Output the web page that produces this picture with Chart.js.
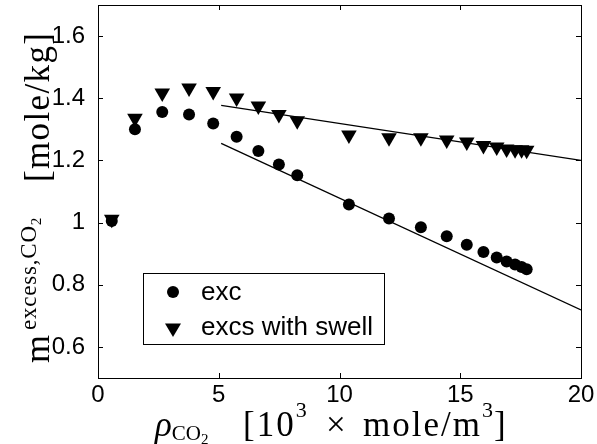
<!DOCTYPE html>
<html>
<head>
<meta charset="utf-8">
<script src="https://cdn.jsdelivr.net/npm/chart.js@4"></script>
<style>
  body { margin: 0; background: #fff; }
</style>
</head>
<body>
<canvas id="myChart" width="597" height="444"></canvas>
<script>
// CO2 density [10^3 mole/m^3]
const density = [0.57, 1.53, 2.66, 3.77, 4.77, 5.74, 6.64, 7.49, 8.25, 10.39,
  12.05, 13.37, 14.44, 15.27, 15.96, 16.51, 16.92, 17.27, 17.54, 17.75]
const excValues = [1.005, 1.300, 1.356, 1.348, 1.319, 1.276, 1.230, 1.187, 1.152, 1.058,
  1.013, 0.985, 0.956, 0.929, 0.905, 0.888, 0.875, 0.865, 0.857, 0.850]
const swellValues = [1.011, 1.336, 1.417, 1.433, 1.422, 1.401, 1.375, 1.348, 1.328, 1.282,
  1.273, 1.273, 1.266, 1.259, 1.248, 1.243, 1.237, 1.234, 1.234, 1.233]
// straight fits, drawn from x=5.1 to 20
const fitX = [5.1, 20]
const fitExc = [1.255, 0.719]
const fitSwell = [1.377, 1.200]
const seriesLabels = ['exc', 'excs with swell']
const xTicks = [0, 5, 10, 15, 20]
const yTicks = [0.6, 0.8, 1, 1.2, 1.4, 1.6]

const pts = (xs, ys) => xs.map((x, i) => ({x: x, y: ys[i]}))

const serif = '"Liberation Serif", "DejaVu Serif", serif'
const sans = '"Liberation Sans", Arial, sans-serif'

// each piece: text, size, offset from baseline, optional start pos and width to stretch to
function richText(ctx, segs) {
  ctx.textBaseline = 'alphabetic'
  ctx.textAlign = 'left'
  let cur = 0
  segs.forEach(s => {
    ctx.font = (s.it ? 'italic ' : '') + s.s + 'px ' + serif
    ctx.letterSpacing = '0px'
    if (s.w) {
      const nat = ctx.measureText(s.t).width
      const sp = Math.min(2, Math.max(0, (s.w - nat) / Math.max(1, s.t.length - 1)))
      ctx.letterSpacing = sp + 'px'
    }
    const x = s.at !== undefined ? s.at : cur + (s.gap || 0)
    ctx.fillText(s.t, x, s.dy || 0)
    cur = x + ctx.measureText(s.t).width
  })
  ctx.letterSpacing = '0px'
}

// keep the plot box where the original has it
const pinArea = {
  id: 'pinArea',
  afterLayout(chart) {
    const y = chart.scales.y
    chart.chartArea.top = 5
    y.top = 5
    y.height = y.bottom - y.top
    y.configure()
  }
}

const framePlugin = {
  id: 'frame',
  afterDraw(chart) {
    const ctx = chart.ctx
    const a = chart.chartArea
    const xs = chart.scales.x, ys = chart.scales.y
    ctx.save()
    ctx.strokeStyle = '#000'
    ctx.fillStyle = '#000'
    ctx.lineWidth = 1
    ctx.strokeRect(a.left + 0.5, a.top + 0.5, a.right - a.left, a.bottom - a.top)
    // inward ticks on every side
    ctx.beginPath()
    xTicks.forEach(v => {
      const p = Math.round(xs.getPixelForValue(v)) + 0.5
      ctx.moveTo(p, a.bottom); ctx.lineTo(p, a.bottom - 5)
      ctx.moveTo(p, a.top); ctx.lineTo(p, a.top + 5)
    })
    yTicks.forEach(v => {
      const p = Math.round(ys.getPixelForValue(v)) + 0.5
      ctx.moveTo(a.left, p); ctx.lineTo(a.left + 5, p)
      ctx.moveTo(a.right, p); ctx.lineTo(a.right - 5, p)
    })
    ctx.stroke()

    // legend
    ctx.fillStyle = '#fff'
    ctx.fillRect(143, 273, 241, 71)
    ctx.strokeRect(143.5, 273.5, 241, 71)
    ctx.fillStyle = '#000'
    ctx.beginPath()
    ctx.arc(173, 292, 6, 0, Math.PI * 2)
    ctx.fill()
    ctx.beginPath()
    ctx.moveTo(165, 323.5); ctx.lineTo(181, 323.5); ctx.lineTo(173, 337)
    ctx.closePath()
    ctx.fill()
    ctx.font = '26px ' + sans
    ctx.textBaseline = 'middle'
    ctx.fillText(seriesLabels[0], 201, 293)
    ctx.fillText(seriesLabels[1], 201, 328)

    // x title
    ctx.save()
    ctx.translate(0, 436)
    richText(ctx, [
      {t: 'ρ', s: 35, it: true, at: 155},
      {t: 'CO', s: 21, dy: 4},
      {t: '2', s: 15, dy: 8},
      {t: '[10', s: 35, at: 243, w: 58},
      {t: '3', s: 22, dy: -19},
      {t: '×', s: 35, at: 326},
      {t: 'mole/m', s: 35, at: 363, w: 126},
      {t: '3', s: 22, dy: -19},
      {t: ']', s: 35, gap: 1}
    ])
    ctx.restore()

    // y title, rotated, reading upward
    ctx.translate(49, 363)
    ctx.rotate(-Math.PI / 2)
    richText(ctx, [
      {t: 'm', s: 36, at: 0},
      {t: 'excess,CO', s: 23, dy: -13, at: 33, w: 104},
      {t: '2', s: 15, dy: -8},
      {t: '[mole/kg]', s: 35, at: 181, w: 149}
    ])
    ctx.restore()
  }
}

const myChart = new Chart(document.getElementById('myChart'), {
  type: 'scatter',
  data: {
    datasets: [{
      label: seriesLabels[0],
      data: pts(density, excValues),
      pointStyle: 'circle',
      pointRadius: 6,
      pointBackgroundColor: '#000',
      pointBorderWidth: 0
    }, {
      label: seriesLabels[1],
      data: pts(density, swellValues),
      pointStyle: 'triangle',
      pointRotation: 180,
      pointRadius: 9,
      pointBackgroundColor: '#000',
      pointBorderWidth: 0
    }, {
      data: pts(fitX, fitExc),
      showLine: true,
      pointRadius: 0,
      borderColor: '#000',
      borderWidth: 1.3
    }, {
      data: pts(fitX, fitSwell),
      showLine: true,
      pointRadius: 0,
      borderColor: '#000',
      borderWidth: 1.3
    }]
  },
  options: {
    responsive: false,
    animation: false,
    devicePixelRatio: 1,
    layout: { padding: { left: 0, top: 5, right: 16, bottom: 0 } },
    plugins: { legend: { display: false }, tooltip: { enabled: false } },
    scales: {
      x: {
        type: 'linear',
        min: 0, max: 20,
        afterBuildTicks: axis => { axis.ticks = xTicks.map(v => ({value: v})) },
        afterFit: scale => { scale.height = 66; scale.paddingLeft = 0; scale.paddingRight = 0 },
        grid: { display: false },
        border: { display: false },
        ticks: { color: '#000', padding: -5, maxRotation: 0, font: { family: sans, size: 24 },
          callback: v => String(v) }
      },
      y: {
        type: 'linear',
        min: 0.5, max: 1.7,
        afterBuildTicks: axis => { axis.ticks = yTicks.map(v => ({value: v})) },
        afterFit: scale => { scale.width = 98; scale.paddingTop = 0; scale.paddingBottom = 0 },
        grid: { display: false },
        border: { display: false },
        ticks: { color: '#000', padding: 5, font: { family: sans, size: 24 },
          callback: v => String(v) }
      }
    }
  },
  plugins: [pinArea, framePlugin]
})
</script>
</body>
</html>
